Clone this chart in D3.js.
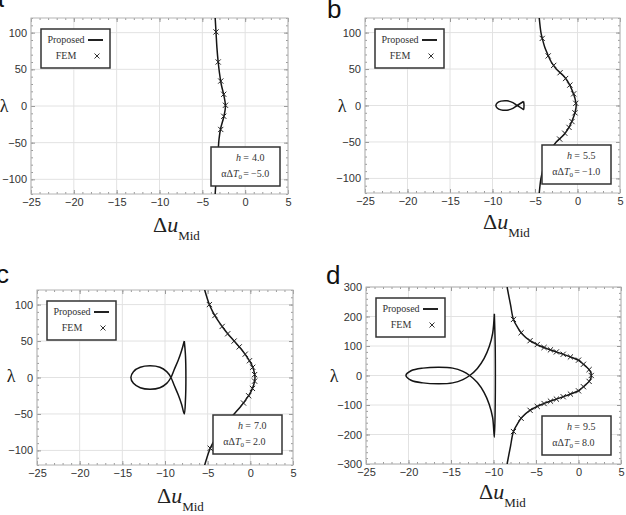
<!DOCTYPE html>
<html><head><meta charset="utf-8">
<script src="https://cdn.jsdelivr.net/npm/d3@7"></script>
<style>body{margin:0;background:#fff;overflow:hidden}svg{display:block}</style>
</head><body>
<svg id="chart" width="626" height="515"></svg>
<script>
// ---------- DATA ----------
const xTicks = [-25, -20, -15, -10, -5, 0, 5];
const yTicksABC = [-100, -50, 0, 50, 100];
const yTicksD = [-300, -200, -100, 0, 100, 200, 300];

// panel a (h = 4.0, αΔT0 = −5.0)
const aMainLam = [-120, -100, -80, -60, -45, -30, -15, 0, 15, 30, 45, 60, 80, 100, 120];
const aMainDu  = [-3.5, -3.4, -3.3, -3.15, -3.05, -2.85, -2.5, -2.3, -2.5, -2.8, -3.0, -3.15, -3.3, -3.4, -3.5];
const aFemLam = [101, 60, 34, 16, 1, -14, -32];
const aFemDu  = [-3.4, -3.15, -2.85, -2.5, -2.3, -2.5, -2.85];

// panel b (h = 5.5, αΔT0 = −1.0)
const bMainLam = [-120, -100, -90, -80, -70, -60, -50, -40, -30, -20, -10, 0, 10, 20, 30, 40, 50, 60, 70, 80, 90, 100, 120];
const bMainDu  = [-4.5, -4.3, -4.1, -3.85, -3.5, -3.1, -2.5, -1.6, -1.0, -0.6, -0.3, -0.15, -0.3, -0.6, -1.0, -1.6, -2.5, -3.1, -3.5, -3.85, -4.1, -4.3, -4.5];
const bFemLam = [92, 68, 55, 45, 37, 28, 16, 3, -10, -22, -30, -38, -46];
const bFemDu  = [-4.15, -3.45, -2.8, -2.05, -1.4, -0.9, -0.45, -0.2, -0.3, -0.65, -1.0, -1.5, -2.1];
const bLoopLam = [5.5, 0, -4, -6.5, -6, -3.5, 0, 3.5, 6, 6.5, 4, 0, -3.5, -5.5, -2, 2, 5.5];
const bLoopDu  = [-6.35, -7.1, -7.6, -8.3, -9.0, -9.45, -9.6, -9.45, -9.0, -8.3, -7.6, -7.1, -6.6, -6.35, -6.3, -6.3, -6.35];

// panel c (h = 7.0, αΔT0 = 2.0)
const cMainLam = [-120, -100, -90, -80, -70, -60, -50, -40, -30, -20, -10, 0, 10, 20, 30, 40, 50, 60, 70, 80, 90, 100, 120];
const cMainDu  = [-5.35, -4.8, -4.4, -3.9, -3.3, -2.65, -1.9, -1.15, -0.5, 0.05, 0.4, 0.55, 0.4, 0.05, -0.5, -1.15, -1.9, -2.65, -3.3, -3.9, -4.4, -4.8, -5.35];
const cFemLam = [100, 85, 70, 60, 50, 42, 32, 23, 14, 4, -5, -15, -25, -35, -97];
const cFemDu  = [-4.8, -4.15, -3.3, -2.65, -1.9, -1.3, -0.6, -0.1, 0.28, 0.5, 0.5, 0.25, -0.2, -0.8, -4.7];
const cLoopLam = [50, 37, 24, 10, 0, -8, -14, -16, -14, -8, 0, 8, 14, 16, 14, 8, 0, -10, -24, -37, -50, -30, 0, 30, 50];
const cLoopDu  = [-7.74, -8.05, -8.44, -8.95, -9.3, -9.8, -10.6, -11.75, -12.9, -13.7, -14.0, -13.7, -12.9, -11.75, -10.6, -9.8, -9.3, -8.95, -8.44, -8.05, -7.74, -7.6, -7.55, -7.6, -7.74];

// panel d (h = 9.5, αΔT0 = 8.0)
const dMainLam = [-300, -240, -190, -160, -140, -120, -110, -100, -90, -80, -70, -60, -50, -40, -30, -20, -10, 0, 10, 20, 30, 40, 50, 60, 70, 80, 90, 100, 110, 120, 140, 160, 190, 240, 300];
const dMainDu  = [-8.4, -8.0, -7.65, -7.1, -6.6, -5.8, -5.2, -4.5, -3.6, -2.6, -1.6, -0.7, 0.1, 0.5, 0.9, 1.25, 1.45, 1.5, 1.45, 1.25, 0.9, 0.5, 0.1, -0.7, -1.6, -2.6, -3.6, -4.5, -5.2, -5.8, -6.6, -7.1, -7.65, -8.0, -8.4];
const dFemLam = [190, 145, 118, 105, 95, 87, 80, 72, 63, 52, 38, 20, 0, -20, -38, -52, -63, -72, -80, -87, -95, -105, -118, -145, -190];
const dFemDu  = [-7.65, -6.75, -5.7, -4.85, -4.05, -3.3, -2.6, -1.8, -0.95, 0.0, 0.58, 1.25, 1.5, 1.25, 0.58, 0.0, -0.95, -1.8, -2.6, -3.3, -4.05, -4.85, -5.7, -6.75, -7.65];
const dLoopLam = [209, 143, 98, 58, 24, 0, -14, -25, -28, -25, -16, 0, 16, 25, 28, 25, 14, 0, -24, -58, -98, -143, -209, -100, 0, 100, 209];
const dLoopDu  = [-9.9, -10.1, -10.5, -11.1, -11.9, -12.8, -13.6, -14.8, -16.4, -18.3, -19.7, -20.3, -19.7, -18.3, -16.4, -14.8, -13.6, -12.8, -11.9, -11.1, -10.5, -10.1, -9.9, -9.8, -9.78, -9.8, -9.9];

const panelLetters = ["a", "b", "c", "d"];
const hValues = ["4.0", "5.5", "7.0", "9.5"];
const tValues = ["−5.0", "−1.0", "2.0", "8.0"];

// ---------- LAYOUT ----------
const zip = (l, u) => l.map((v, i) => ({lam: v, du: u[i]}));
const panels = [
  {box:[31,18,288,194], yDom:[-120,120], yTicks:yTicksABC, yMinor:10, main:zip(aMainLam,aMainDu), fem:zip(aFemLam,aFemDu), loop:null,
   letter:[4,7,"end"], lam:[4,112], xlab:[153,232], info:[211,147]},
  {box:[365,18,620,193], yDom:[-120,120], yTicks:yTicksABC, yMinor:10, main:zip(bMainLam,bMainDu), fem:zip(bFemLam,bFemDu), loop:zip(bLoopLam,bLoopDu),
   letter:[327,18,"start"], lam:[342,112], xlab:[483,229], info:[542,145]},
  {box:[37,290,293,465], yDom:[-120,120], yTicks:yTicksABC, yMinor:10, main:zip(cMainLam,cMainDu), fem:zip(cFemLam,cFemDu), loop:zip(cLoopLam,cLoopDu),
   letter:[9,283,"end"], lam:[11,382], xlab:[157,503], info:[213,415]},
  {box:[366,287,621,464], yDom:[-300,300], yTicks:yTicksD, yMinor:20, main:zip(dMainLam,dMainDu), fem:zip(dFemLam,dFemDu), loop:zip(dLoopLam,dLoopDu),
   letter:[326,284,"start"], lam:[334,382], xlab:[479,499], info:[542,416]}
];

const svg = d3.select("#chart");
const defs = svg.append("defs");
const SERIF = "'Liberation Serif','Times New Roman',serif";
const SANS = "'Liberation Sans',Arial,sans-serif";

panels.forEach((p, i) => {
  const [L, T, R, B] = p.box;
  const x = d3.scaleLinear().domain([-25, 5]).range([L, R]);
  const y = d3.scaleLinear().domain(p.yDom).range([B, T]);
  const g = svg.append("g");
  const xMinor = d3.range(-25, 5.01, 1);
  const yMinor = d3.range(p.yDom[0], p.yDom[1] + 0.01, p.yMinor);

  // grid
  g.selectAll(".gx").data(xTicks).join("line")
    .attr("x1", d => x(d)).attr("x2", d => x(d)).attr("y1", T).attr("y2", B)
    .attr("stroke", "#e2e2e2").attr("stroke-width", 1);
  g.selectAll(".gy").data(p.yTicks).join("line")
    .attr("x1", L).attr("x2", R).attr("y1", d => y(d)).attr("y2", d => y(d))
    .attr("stroke", "#e2e2e2").attr("stroke-width", 1);

  // axes
  const style = sel => {
    sel.select(".domain").remove();
    sel.selectAll(".tick line").attr("stroke", "#9a9a9a");
    sel.selectAll(".tick text").attr("fill", "#333").attr("font-family", SANS).attr("font-size", 11);
  };
  g.append("g").attr("transform", `translate(0,${B})`).call(d3.axisBottom(x).tickValues(xMinor).tickSize(-2).tickFormat("")).call(style);
  g.append("g").attr("transform", `translate(0,${B})`).call(d3.axisBottom(x).tickValues(xTicks).tickSize(-4).tickPadding(4)).call(style);
  g.append("g").attr("transform", `translate(0,${T})`).call(d3.axisTop(x).tickValues(xMinor).tickSize(-2).tickFormat("")).call(style);
  g.append("g").attr("transform", `translate(0,${T})`).call(d3.axisTop(x).tickValues(xTicks).tickSize(-4).tickFormat("")).call(style);
  g.append("g").attr("transform", `translate(${L},0)`).call(d3.axisLeft(y).tickValues(yMinor).tickSize(-2).tickFormat("")).call(style);
  g.append("g").attr("transform", `translate(${L},0)`).call(d3.axisLeft(y).tickValues(p.yTicks).tickSize(-4).tickPadding(4)).call(style);
  g.append("g").attr("transform", `translate(${R},0)`).call(d3.axisRight(y).tickValues(yMinor).tickSize(-2).tickFormat("")).call(style);
  g.append("g").attr("transform", `translate(${R},0)`).call(d3.axisRight(y).tickValues(p.yTicks).tickSize(-4).tickFormat("")).call(style);

  // frame
  g.append("rect").attr("x", L).attr("y", T).attr("width", R - L).attr("height", B - T)
    .attr("fill", "none").attr("stroke", "#b4b4b4").attr("stroke-width", 1);

  // clip
  const cid = "clip" + i;
  defs.append("clipPath").attr("id", cid).append("rect").attr("x", L).attr("y", T).attr("width", R - L).attr("height", B - T);
  const cg = g.append("g").attr("clip-path", `url(#${cid})`);

  const line = d3.line().x(d => x(d.du)).y(d => y(d.lam)).curve(d3.curveCatmullRom.alpha(0.5));
  cg.append("path").datum(p.main).attr("d", line).attr("fill", "none").attr("stroke", "#151515").attr("stroke-width", 1.5);
  if (p.loop) cg.append("path").datum(p.loop).attr("d", line).attr("fill", "none").attr("stroke", "#151515").attr("stroke-width", 1.5);

  // FEM crosses
  const s = 2.6;
  const fg = cg.append("g").attr("stroke", "#222").attr("stroke-width", 1);
  p.fem.forEach(d => {
    const cx = x(d.du), cy = y(d.lam);
    fg.append("line").attr("x1", cx - s).attr("y1", cy - s).attr("x2", cx + s).attr("y2", cy + s);
    fg.append("line").attr("x1", cx - s).attr("y1", cy + s).attr("x2", cx + s).attr("y2", cy - s);
  });

  // legend
  const lx = L + 10, ly = T + 11;
  const lg = g.append("g");
  lg.append("rect").attr("x", lx).attr("y", ly).attr("width", 69).attr("height", 39)
    .attr("fill", "#fff").attr("stroke", "#333").attr("stroke-width", 1.5);
  lg.append("text").attr("x", lx + 25).attr("y", ly + 14).attr("text-anchor", "middle")
    .attr("font-family", SERIF).attr("font-size", 10).attr("fill", "#333").text("Proposed");
  lg.append("line").attr("x1", lx + 47).attr("x2", lx + 62).attr("y1", ly + 11).attr("y2", ly + 11)
    .attr("stroke", "#222").attr("stroke-width", 2);
  lg.append("text").attr("x", lx + 25).attr("y", ly + 30).attr("text-anchor", "middle")
    .attr("font-family", SERIF).attr("font-size", 10).attr("fill", "#333").text("FEM");
  const mx = lx + 56, my = ly + 27;
  lg.append("line").attr("x1", mx - 2.5).attr("y1", my - 2.5).attr("x2", mx + 2.5).attr("y2", my + 2.5).attr("stroke", "#333");
  lg.append("line").attr("x1", mx - 2.5).attr("y1", my + 2.5).attr("x2", mx + 2.5).attr("y2", my - 2.5).attr("stroke", "#333");

  // info box
  const [ix, iy] = p.info;
  const ig = g.append("g").attr("font-family", SERIF).attr("font-size", 10).attr("fill", "#333");
  ig.append("rect").attr("x", ix).attr("y", iy).attr("width", 69).attr("height", 39)
    .attr("fill", "#fff").attr("stroke", "#333").attr("stroke-width", 1.5);
  const eq = ix + 35;
  ig.append("text").attr("x", eq - 5).attr("y", iy + 14).attr("text-anchor", "end").attr("font-style", "italic").text("h");
  ig.append("text").attr("x", eq).attr("y", iy + 14).attr("text-anchor", "middle").text("=");
  ig.append("text").attr("x", eq + 6).attr("y", iy + 14).text(hValues[i]);
  const t2 = ig.append("text").attr("x", eq - 4).attr("y", iy + 30).attr("text-anchor", "end");
  t2.append("tspan").text("αΔ");
  t2.append("tspan").attr("font-style", "italic").text("T");
  t2.append("tspan").attr("font-size", 7).attr("dy", 2).text("0");
  ig.append("text").attr("x", eq).attr("y", iy + 30).attr("text-anchor", "middle").text("=");
  ig.append("text").attr("x", eq + 5).attr("y", iy + 30).text(tValues[i]);

  // axis titles
  const xt = g.append("text").attr("x", p.xlab[0]).attr("y", p.xlab[1])
    .attr("font-family", SERIF).attr("font-size", 22).attr("fill", "#222");
  xt.append("tspan").text("Δ");
  xt.append("tspan").attr("font-style", "italic").text("u");
  xt.append("tspan").attr("font-size", 13).attr("dy", 8).text("Mid");
  g.append("text").attr("x", p.lam[0]).attr("y", p.lam[1]).attr("text-anchor", "middle")
    .attr("font-family", SERIF).attr("font-size", 18).attr("fill", "#222").text("λ");

  // panel letter
  svg.append("text").attr("x", p.letter[0]).attr("y", p.letter[1]).attr("text-anchor", p.letter[2])
    .attr("font-family", SANS).attr("font-size", 26).attr("fill", "#111").text(panelLetters[i]);
});
</script>
</body></html>
